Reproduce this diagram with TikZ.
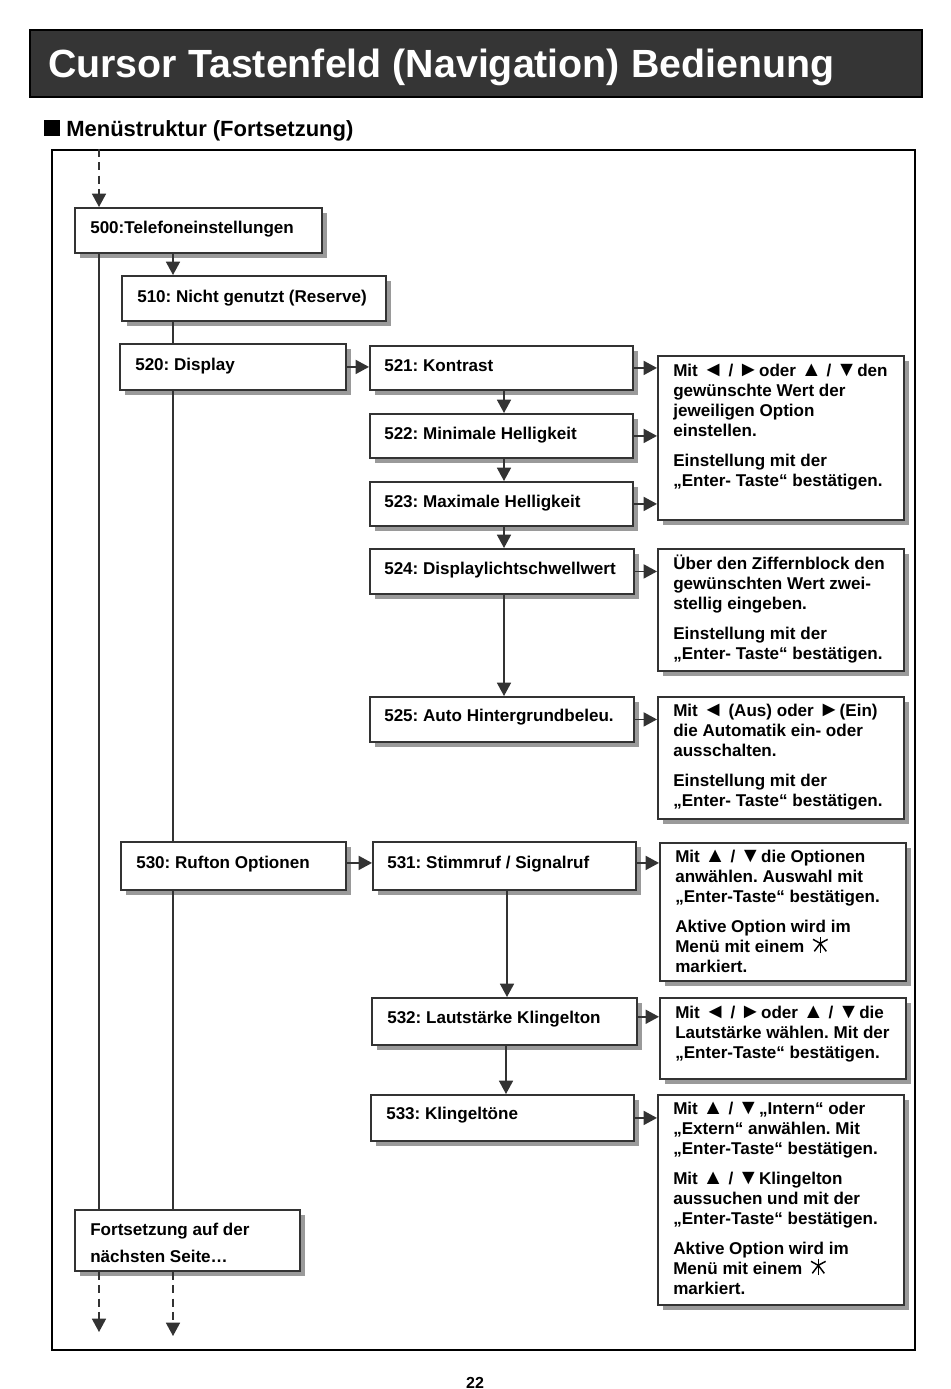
\documentclass[tikz,border=0pt]{standalone}
\usepackage{fontspec}
\setmainfont{Liberation Sans}
\usetikzlibrary{arrows.meta,shadows,calc}
\frenchspacing
\definecolor{ln}{HTML}{333333}
\definecolor{titlebg}{HTML}{353535}
\definecolor{shd}{HTML}{9A9A9A}
\newcommand{\astsym}{\tikz[baseline={(0,0)}, x=1pt, y=1pt, line width=1.1pt]{\draw (0,-0.5)--(0,11); \draw (-5.5,9.5)--(0,6.5)--(5.5,9.5); \draw (-4.5,0.5)--(0,6.5)--(4.5,0.5);}}
\newcommand{\bgsym}[1]{\scalebox{1.25}{#1}}
\newcommand{\tL}{\bgsym{◄}}
\newcommand{\tR}{\bgsym{►}}
\newcommand{\tU}{\bgsym{▲}}
\newcommand{\tD}{\bgsym{▼}}
\newcommand{\bx}[5]{\node[box, minimum width={(#4-#2)*0.75pt}, minimum height={(#5-#3)*0.75pt}] (#1) at (#2,#3) {};}
\newcommand{\lb}[3]{\node[lbl] (#1) at (#2) {#3};}
\newcommand{\rtext}[3]{\node[lbl] (#1) at (#2) {\parbox[t]{190pt}{\raggedright #3}};}
\begin{document}
\begin{tikzpicture}[x=0.75pt,y=-0.75pt,
  box/.style={draw=ln, line width=1.4pt, fill=white, rectangle, inner sep=0pt, anchor=north west,
    drop shadow={shadow xshift=3.5pt, shadow yshift=-3.5pt, fill=shd, opacity=1}},
  lbl/.style={anchor=base west, inner sep=0pt, font=\bfseries\fontsize{12.8}{15}\selectfont},
  conn/.style={draw=ln, line width=1.2pt},
  arr/.style={conn, -{Triangle[length=10pt,width=10.5pt]}},
  darr/.style={arr, dash pattern=on 6pt off 4pt}
]
\useasboundingbox (0,0) rectangle (950,1389);
\fill[white] (0,0) rectangle (950,1389);
% title
\node[draw=black, line width=1.2pt, fill=titlebg, minimum width={892*0.75pt}, minimum height={67*0.75pt}, anchor=north west, inner sep=0pt] (title) at (29,29) {};
\node[anchor=base west, inner sep=0pt, text=white, font=\bfseries\fontsize{29.5}{29.5}\selectfont] (titletext) at (48,77) {Cursor Tastenfeld (Navigation) Bedienung};
% subtitle
\fill[black] (44,120) rectangle (60,136);
\node[anchor=base west, inner sep=0pt, font=\bfseries\fontsize{16.5}{18}\selectfont] (sub) at (66,136) {Menüstruktur (Fortsetzung)};
% frame
\node[draw=black, line width=1.2pt, minimum width={863*0.75pt}, minimum height={1200*0.75pt}, anchor=north west, inner sep=0pt] (frame) at (51,149) {};
% page number
\node[anchor=base, inner sep=0pt, font=\bfseries\fontsize{12}{12}\selectfont] (page) at (475,1388) {22};

% boxes
\bx{n500}{74}{207}{321}{252}
\bx{n510}{121}{275}{385}{320}
\bx{n520}{119}{343}{345}{389}
\bx{n521}{369}{345}{632}{389}
\bx{n522}{369}{413}{632}{457}
\bx{n523}{369}{481}{632}{525}
\bx{n524}{369}{548}{633}{593}
\bx{n525}{369}{696}{633}{741}
\bx{n530}{120}{841}{345}{889}
\bx{n531}{372}{841}{635}{889}
\bx{n532}{371}{997}{636}{1044}
\bx{n533}{370}{1094}{633}{1140}
\bx{fort}{74}{1209}{299}{1270}
\bx{r1}{657}{355}{903}{519}
\bx{r2}{657}{548}{903}{670}
\bx{r3}{657}{696}{903}{818}
\bx{r4}{659}{842}{905}{980}
\bx{r5}{659}{997}{905}{1078}
\bx{r6}{657}{1094}{903}{1304}

% labels
\lb{t500}{90,233}{500:Telefoneinstellungen}
\lb{t510}{137,302}{510: Nicht genutzt (Reserve)}
\lb{t520}{135,370}{520: Display}
\lb{t521}{384,371}{521: Kontrast}
\lb{t522}{384,439}{522: Minimale Helligkeit}
\lb{t523}{384,507}{523: Maximale Helligkeit}
\lb{t524}{384,574}{524: Displaylichtschwellwert}
\lb{t525}{384,721}{525: Auto Hintergrundbeleu.}
\lb{t530}{136,868}{530: Rufton Optionen}
\lb{t531}{387,868}{531: Stimmruf / Signalruf}
\lb{t532}{387,1023}{532: Lautstärke Klingelton}
\lb{t533}{386,1119}{533: Klingeltöne}
\node[lbl] (tfort) at (90,1235) {\parbox[t]{170pt}{\baselineskip=20.25pt Fortsetzung auf der\\nächsten Seite…}};

% right texts
\rtext{tr1}{673,376}{Mit \tL{} / \tR oder \tU{} / \tD den\\gewünschte Wert der\\jeweiligen Option\\einstellen.\\[7.5pt]Einstellung mit der\\„Enter- Taste“ bestätigen.}
\rtext{tr2}{673,569}{Über den Ziffernblock den\\gewünschten Wert zwei-\\stellig eingeben.\\[7.5pt]Einstellung mit der\\„Enter- Taste“ bestätigen.}
\rtext{tr3}{673,716}{Mit \tL{} (Aus) oder \tR(Ein)\\die Automatik ein- oder\\ausschalten.\\[7.5pt]Einstellung mit der\\„Enter- Taste“ bestätigen.}
\rtext{tr4}{675,862}{Mit \tU{} / \tD die Optionen\\anwählen. Auswahl mit\\„Enter-Taste“ bestätigen.\\[7.5pt]Aktive Option wird im\\Menü mit einem\hspace{6pt}\astsym\\markiert.}
\rtext{tr5}{675,1018}{Mit \tL{} / \tR oder \tU{} / \tD die\\Lautstärke wählen. Mit der\\„Enter-Taste“ bestätigen.}
\rtext{tr6}{673,1114}{Mit \tU{} / \tD„Intern“ oder\\„Extern“ anwählen. Mit\\„Enter-Taste“ bestätigen.\\[7.5pt]Mit \tU{} / \tD Klingelton\\aussuchen und mit der\\„Enter-Taste“ bestätigen.\\[7.5pt]Aktive Option wird im\\Menü mit einem\hspace{6pt}\astsym\\markiert.}

% connectors
\coordinate (xL) at (99,0);
\coordinate (xM) at (173,0);
\coordinate (xR) at (504,0);
\coordinate (xR2) at (507,0);
\coordinate (xR3) at (506,0);
\coordinate (dL) at (99,1332);
\coordinate (dM) at (173,1336);
\draw[darr] (frame.north -| xL) -- (n500.north -| xL);
\draw[conn] (n500.south -| xL) -- (fort.north -| xL);
\draw[darr] (fort.south -| xL) -- (dL);
\draw[darr] (fort.south -| xM) -- (dM);
\draw[arr] (n500.south -| xM) -- (n510.north -| xM);
\draw[conn] (n510.south -| xM) -- (n520.north -| xM);
\draw[conn] (n520.south -| xM) -- (n530.north -| xM);
\draw[conn] (n530.south -| xM) -- (fort.north -| xM);

\draw[arr] (n520.east) -- (n520.east -| n521.west);
\draw[arr] (n521.east) -- (n521.east -| r1.west);
\draw[arr] (n522.east) -- (n522.east -| r1.west);
\draw[arr] (n523.east) -- (n523.east -| r1.west);
\draw[arr] (n524.east) -- (n524.east -| r2.west);
\draw[arr] (n525.east) -- (n525.east -| r3.west);
\draw[arr] ([yshift=2.25pt]n530.east) -- ([yshift=2.25pt]n530.east -| n531.west);
\draw[arr] ([yshift=2.25pt]n531.east) -- ([yshift=2.25pt]n531.east -| r4.west);
\draw[arr] ([yshift=3.5pt]n532.east) -- ([yshift=3.5pt]n532.east -| r5.west);
\draw[arr] (n533.east) -- (n533.east -| r6.west);

\draw[arr] (n521.south -| xR) -- (n522.north -| xR);
\draw[arr] (n522.south -| xR) -- (n523.north -| xR);
\draw[arr] (n523.south -| xR) -- (n524.north -| xR);
\draw[arr] (n524.south -| xR) -- (n525.north -| xR);
\draw[arr] (n531.south -| xR2) -- (n532.north -| xR2);
\draw[arr] (n532.south -| xR3) -- (n533.north -| xR3);
\end{tikzpicture}
\end{document}
